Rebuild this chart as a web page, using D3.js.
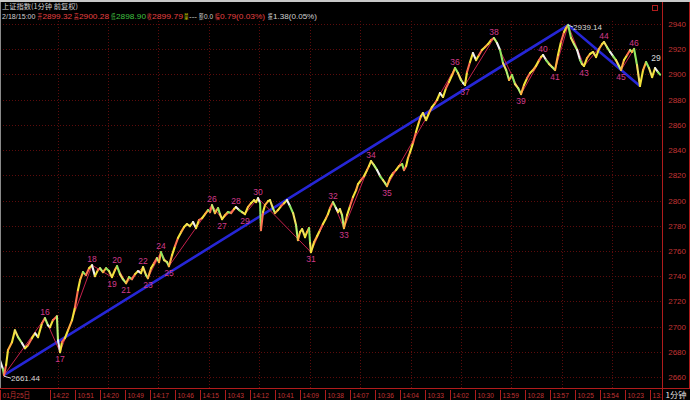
<!DOCTYPE html>
<html><head><meta charset="utf-8">
<script src="https://cdn.jsdelivr.net/npm/d3@7/dist/d3.min.js"></script>
<style>html,body{margin:0;padding:0;background:#000;overflow:hidden}svg{display:block}</style>
</head><body>
<script>
// ---------------- DATA ----------------
const titleText = "上证指数(1分钟 前复权)";
const quoteTime = "2/18/15:00";
const quoteFields = ["开","高","低","收","量","额","幅","振"];
const quoteValues = ["2899.32","2900.28","2898.90","2899.79","---","0.0","0.79(0.03%)","1.38(0.05%)"];

const priceTicks = [2660,2680,2700,2720,2740,2760,2780,2800,2820,2840,2860,2880,2900,2920,2940];

const timeLabels = ["01月25日","14:22","10:51","14:20","10:49","14:17","10:46","14:15","10:43","14:12","10:41","14:09","10:38","14:07","10:36","14:04","10:33","14:02","10:30","13:59","10:28","13:57","10:25","13:54","10:23","13:52"];
const timeLabelMinutes = [0,236,355,474,593,712,831,950,1069,1188,1307,1426,1545,1664,1783,1902,2021,2140,2259,2378,2497,2616,2735,2854,2973,3092];
const periodLabel = "1分钟";

// price trace (minute index, price)
const traceMinutes = [0,14,19,29,38,57,71,86,105,119,133,152,167,181,200,214,228,238,252,271,276,286,295,309,324,343,357,371,381,395,409,424,438,452,466,476,490,505,519,533,547,557,571,585,600,614,628,643,657,671,681,695,704,719,733,747,757,766,781,795,804,819,833,847,862,876,890,904,919,933,947,962,976,990,1000,1009,1023,1038,1047,1057,1071,1085,1100,1114,1123,1138,1152,1166,1180,1195,1209,1219,1228,1238,1242,1252,1261,1276,1285,1299,1309,1323,1338,1352,1366,1380,1395,1409,1418,1428,1438,1452,1461,1471,1476,1480,1495,1509,1523,1537,1552,1561,1571,1585,1599,1609,1618,1628,1637,1652,1666,1680,1695,1704,1718,1733,1747,1756,1766,1780,1795,1809,1823,1833,1842,1856,1871,1885,1899,1914,1923,1933,1942,1952,1966,1980,1994,2004,2013,2028,2042,2056,2071,2080,2094,2109,2123,2137,2152,2166,2180,2194,2204,2213,2223,2237,2251,2266,2280,2294,2309,2323,2337,2351,2366,2380,2394,2409,2423,2437,2451,2466,2480,2494,2509,2523,2537,2551,2566,2575,2585,2599,2613,2628,2642,2656,2670,2685,2694,2704,2718,2732,2747,2761,2770,2780,2794,2808,2823,2837,2851,2866,2875,2889,2904,2918,2932,2946,2956,2970,2985,2999,3008,3018,3032,3046,3061,3075,3089,3104,3118,3132,3142];
const tracePrices = [2673.3,2666.2,2661.44,2669.4,2681.3,2687.6,2697.1,2691.6,2686.8,2682.8,2685.2,2690.8,2694.7,2691.6,2702.7,2706.7,2701.1,2699.5,2705.1,2708.2,2689.2,2679.7,2687.6,2690.8,2697.1,2705.1,2715.4,2728.9,2736.8,2743.2,2740.8,2746.3,2748.7,2740.0,2744.8,2746.3,2743.2,2746.3,2744.0,2739.2,2744.8,2747.9,2741.6,2737.6,2734.4,2739.2,2737.6,2741.6,2744.0,2742.4,2747.1,2740.8,2738.4,2746.3,2750.3,2754.3,2751.1,2759.0,2752.7,2751.1,2747.9,2756.7,2763.8,2770.2,2774.9,2778.9,2781.3,2779.7,2782.9,2778.1,2784.4,2786.0,2789.2,2792.4,2790.8,2796.3,2790.0,2794.0,2789.2,2785.2,2788.4,2790.8,2790.0,2793.2,2794.8,2792.4,2790.8,2789.2,2794.8,2797.9,2800.3,2798.7,2801.9,2797.9,2776.5,2790.8,2796.3,2799.5,2800.3,2794.0,2790.0,2792.4,2795.6,2797.9,2800.3,2795.6,2790.0,2780.5,2768.6,2774.9,2777.3,2770.9,2774.9,2778.1,2766.2,2759.0,2767.0,2771.7,2776.5,2781.3,2786.0,2789.2,2794.0,2798.7,2794.0,2790.8,2793.2,2788.4,2778.1,2788.4,2795.6,2802.7,2808.2,2813.0,2816.2,2819.4,2824.1,2827.3,2831.3,2828.1,2824.1,2819.4,2816.2,2813.8,2811.4,2817.8,2821.7,2824.1,2827.3,2828.9,2824.1,2827.3,2833.7,2838.4,2845.6,2854.3,2862.2,2867.0,2869.4,2863.8,2869.4,2874.1,2877.3,2879.7,2885.2,2882.1,2889.2,2894.0,2899.5,2905.1,2901.1,2895.6,2893.2,2891.6,2901.9,2909.8,2917.0,2911.4,2915.4,2919.4,2921.7,2924.1,2927.3,2928.9,2924.9,2919.4,2909.0,2903.5,2895.6,2899.5,2892.4,2889.2,2884.4,2891.6,2897.1,2901.1,2903.5,2906.7,2911.4,2913.8,2915.4,2911.4,2908.3,2905.9,2903.5,2915.4,2925.7,2933.7,2936.8,2939.14,2928.9,2924.1,2919.4,2911.4,2908.3,2906.7,2913.0,2916.2,2917.8,2913.8,2920.2,2924.1,2925.7,2921.7,2917.8,2914.6,2911.4,2906.7,2903.5,2911.4,2915.4,2919.4,2917.8,2920.2,2907.5,2890.8,2903.5,2909.8,2905.1,2897.9,2905.1,2901.9,2899.8];

// wave turning points (zigzag) and their labels ("" = not labelled)
const waveLabels  = ["", "16","17","18","19","20","21","22","23","24","25","26","27","28","29","30","31","32","33","34","35","36","37","38","39","40","41","", "43","44","45","46",""];
const waveMinutes = [19,214,286,438,533,557,600,681,704,766,804,1009,1057,1123,1166,1228,1480,1585,1637,1766,1842,2166,2213,2351,2480,2585,2642,2704,2780,2875,2956,3018,3046];
const wavePrices  = [2661.44,2706.7,2679.7,2748.7,2739.2,2747.9,2734.4,2747.1,2738.4,2759.0,2747.9,2796.3,2785.2,2794.8,2789.2,2801.9,2759.0,2798.7,2778.1,2831.3,2811.4,2905.1,2891.6,2928.9,2884.4,2915.4,2903.5,2939.14,2906.7,2925.7,2903.5,2920.2,2890.8];

// trend line anchors
const trendMinutes = [19,2704,3046];
const trendPrices  = [2661.44,2939.14,2890.8];

const lowLabel = "2661.44", highLabel = "2939.14", lastLabel = "29";
const lastMinute = 3100, lastPrice = 2911.0;

// ---------------- LAYOUT ----------------
const W = 690, H = 400;
const plotL = 0, plotR = 661.8, axisY = 388;
const x = d3.scaleLinear().domain([0, 3150]).range([plotL, plotR]);
const y = d3.scaleLinear().domain([2660, 2940]).range([377, 24]);

const svg = d3.select("body").append("svg").attr("width", W).attr("height", H)
  .style("background", "#000");

const defs = svg.append("defs");
defs.append("clipPath").attr("id","plotclip").append("rect")
  .attr("x", 1).attr("y", 20).attr("width", plotR - 1).attr("height", axisY - 20);

const gridColor = "#5c0c0c", axisRed = "#b01c1c", labelRed = "#c23434";

// top strip
svg.append("rect").attr("x",0).attr("y",0).attr("width",W).attr("height",2).attr("fill","#c8c8c8");

// header
const latin = "'Liberation Sans',sans-serif", cjk = "'Noto Sans CJK SC',sans-serif";
svg.append("text").attr("x",2).attr("y",8.6).attr("font-size",7).attr("font-family",cjk)
  .attr("fill","#d0d0d0").attr("textLength",76).attr("lengthAdjust","spacingAndGlyphs").text(titleText);

// layout of the quote line (x start, width) – positions only
const timePos = [2, 33.5];
const fieldPos = [[37.5,4.5],[74,4.5],[111,4.5],[147,4.5],[184,4.5],[199,4.5],[215,4.5],[268,4.5]];
const valuePos = [[42.5,29.5],[79,30],[116,30],[152,31],[189,8],[204,9],[220,45],[273,44]];
const fieldColors = ["#e84040","#e84040","#40c040","#e84040","#d8d800","#d0d0d0","#e84040","#d0d0d0"];
const valueColors = ["#e84040","#e84040","#40c040","#e84040","#d0d0d0","#d0d0d0","#e84040","#d0d0d0"];
const hdr = svg.append("g");
hdr.append("text").attr("x",timePos[0]).attr("y",18.5).attr("font-size",6.6).attr("font-family",latin)
  .attr("fill","#d0d0d0").attr("textLength",timePos[1]).attr("lengthAdjust","spacingAndGlyphs").text(quoteTime);
quoteFields.forEach((f,i)=>{
  hdr.append("text").attr("x",fieldPos[i][0]).attr("y",18.5).attr("font-size",6.3).attr("font-family",cjk)
    .attr("fill",fieldColors[i]).attr("textLength",fieldPos[i][1]).attr("lengthAdjust","spacingAndGlyphs").text(f);
  hdr.append("text").attr("x",valuePos[i][0]).attr("y",18.5).attr("font-size",7.8).attr("font-family",latin)
    .attr("fill",valueColors[i]).attr("textLength",valuePos[i][1]).attr("lengthAdjust","spacingAndGlyphs").text(quoteValues[i]);
});

// grid: horizontal
const grid = svg.append("g");
grid.selectAll("line.h").data(priceTicks).join("line")
  .attr("x1", plotL).attr("x2", plotR).attr("y1", d=>Math.round(y(d))+0.5).attr("y2", d=>Math.round(y(d))+0.5)
  .attr("stroke", gridColor).attr("stroke-width",1).attr("stroke-dasharray","1,2");
// grid: vertical at session ends (15:00 each day)
const dayEnds = d3.range(274, 3150, 240);
grid.selectAll("line.v").data(dayEnds).join("line")
  .attr("x1", d=>Math.round(x(d))+0.5).attr("x2", d=>Math.round(x(d))+0.5).attr("y1", 21).attr("y2", axisY)
  .attr("stroke", gridColor).attr("stroke-width",1).attr("stroke-dasharray","1,2");

// frame lines
svg.append("line").attr("x1",0.5).attr("x2",0.5).attr("y1",2).attr("y2",axisY).attr("stroke","#8a8a8a");
svg.append("line").attr("x1",0).attr("x2",W).attr("y1",axisY+0.5).attr("y2",axisY+0.5).attr("stroke",axisRed);
svg.append("line").attr("x1",662.5).attr("x2",662.5).attr("y1",2).attr("y2",H).attr("stroke",axisRed);
svg.append("line").attr("x1",689.5).attr("x2",689.5).attr("y1",2).attr("y2",axisY).attr("stroke",axisRed);
svg.append("rect").attr("x",652.5).attr("y",5.5).attr("width",5).attr("height",5).attr("fill","none").attr("stroke",axisRed);

// right axis labels
const yAxis = d3.axisRight(y).tickValues(priceTicks).tickSize(0).tickPadding(0).tickFormat(d3.format("d"));
const ya = svg.append("g").attr("transform","translate(686,0)").call(yAxis);
ya.select(".domain").remove();
ya.selectAll("text").attr("text-anchor","end").attr("x",0).attr("fill",labelRed)
  .attr("font-size",8).attr("font-family",latin);

// bottom time labels (narrow terminal font; a label that runs past the edge is cut short)
const periodX = 665.5, labelSqueeze = 0.86;
const xa = svg.append("g");
const tl = xa.selectAll("g.t").data(timeLabels).join("g")
  .attr("transform",(d,i)=>`translate(${Math.round(x(timeLabelMinutes[i]))},0)`);
tl.append("line").attr("x1",0.5).attr("x2",0.5).attr("y1",axisY+2).attr("y2",H).attr("stroke",axisRed);
tl.append("text").attr("x",2.5).attr("y",397.5).attr("fill",labelRed).attr("font-size",7.6)
  .attr("font-family","'Liberation Sans','Noto Sans CJK SC',sans-serif").text(d=>d)
  .each(function(d,i){
    const start = Math.round(x(timeLabelMinutes[i])) + 2.5;
    const sel = d3.select(this);
    let s = d;
    let w = this.getComputedTextLength() * labelSqueeze;
    while (s.length > 1 && start + w > periodX - 1) {
      s = s.slice(0, -1); sel.text(s);
      w = this.getComputedTextLength() * labelSqueeze;
    }
    sel.attr("textLength", w).attr("lengthAdjust","spacingAndGlyphs");
  });
svg.append("text").attr("x",periodX).attr("y",397.5).attr("fill","#e0e0e0").attr("font-size",8)
  .attr("font-family",cjk).attr("textLength",21).attr("lengthAdjust","spacingAndGlyphs").text(periodLabel);

// plot content
const plot = svg.append("g").attr("clip-path","url(#plotclip)");

// blue trend line
const trendPts = trendMinutes.map((m,i)=>[x(m), y(trendPrices[i])]);
plot.append("path").attr("d", d3.line()(trendPts)).attr("fill","none")
  .attr("stroke","#2626d6").attr("stroke-width",2.6).attr("stroke-linejoin","miter");

// red zigzag
const wavePts = waveMinutes.map((m,i)=>[x(m), y(wavePrices[i])]);
plot.append("path").attr("d", d3.line()(wavePts)).attr("fill","none")
  .attr("stroke","#c4204c").attr("stroke-width",1);

// price trace, segment colour by direction
const segs = d3.range(1, traceMinutes.length).map(i=>({
  x1: x(traceMinutes[i-1]), y1: y(tracePrices[i-1]),
  x2: x(traceMinutes[i]),   y2: y(tracePrices[i]),
  up: tracePrices[i] >= tracePrices[i-1], i
}));
const upCols = ["#f2e23a","#ffb040","#f2e23a","#ff7050"];
const dnCols = ["#b8f070","#f0f0f0","#90e860","#f0e060"];
plot.append("g").selectAll("line").data(segs).join("line")
  .attr("x1",d=>d.x1).attr("y1",d=>d.y1).attr("x2",d=>d.x2).attr("y2",d=>d.y2)
  .attr("stroke",d=>d.up ? upCols[d.i%4] : dnCols[d.i%4]).attr("stroke-width",2.1)
  .attr("stroke-linecap","round");

// wave labels
const wl = waveLabels.map((t,i)=>({t, m: waveMinutes[i], p: wavePrices[i], i}))
  .filter(d=>d.t !== "");
plot.append("g").selectAll("text").data(wl).join("text")
  .attr("x",d=>x(d.m)).attr("text-anchor","middle")
  .attr("y",d=>{
    const prev = wavePrices[d.i-1], next = wavePrices[d.i+1];
    return d.p >= Math.max(prev ?? -Infinity, next ?? -Infinity) ? y(d.p) - 3 : y(d.p) + 10;
  })
  .attr("fill","#d03a8a").attr("font-size",8.5).attr("font-family",latin).text(d=>d.t);

// annotations
const ann = "#d8d8d8";
const lx = x(trendMinutes[0]), ly = y(trendPrices[0]);
plot.append("line").attr("x1",lx).attr("y1",ly+1).attr("x2",lx+7).attr("y2",ly+3).attr("stroke",ann);
plot.append("text").attr("x",lx+7).attr("y",ly+6).attr("fill",ann).attr("font-size",8)
  .attr("font-family",latin).text(lowLabel);
const hx = x(trendMinutes[1]), hy = y(trendPrices[1]);
plot.append("line").attr("x1",hx).attr("y1",hy).attr("x2",hx+5).attr("y2",hy+2).attr("stroke",ann);
plot.append("text").attr("x",hx+5).attr("y",hy+5).attr("fill",ann).attr("font-size",8)
  .attr("font-family",latin).text(highLabel);
plot.append("text").attr("x",x(lastMinute)).attr("y",y(lastPrice)).attr("fill",ann).attr("font-size",8.5)
  .attr("font-family",latin).text(lastLabel);
</script>
</body></html>
